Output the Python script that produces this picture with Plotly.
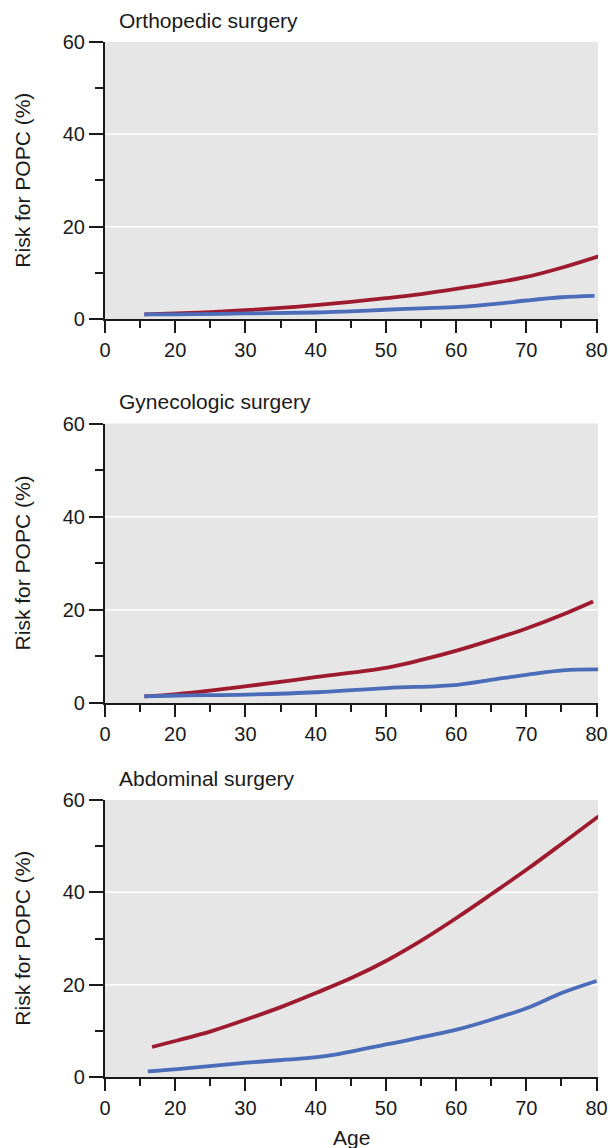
import plotly.graph_objects as go

# Age axis: the first tick (placed at 10) carries the label "0" (axis break)
age_tickvals = [10, 20, 30, 40, 50, 60, 70, 80]
age_ticktext = ["0", "20", "30", "40", "50", "60", "70", "80"]
age_minor = [15, 25, 35, 45, 55, 65, 75]
risk_tickvals = [0, 20, 40, 60]
risk_minor = [10, 30, 50]

panel_titles = ["Orthopedic surgery", "Gynecologic surgery", "Abdominal surgery"]

# Orthopedic surgery
ortho_high_age = [15.6, 20, 25, 30, 35, 40, 45, 50, 55, 60, 65, 70, 75, 80.3]
ortho_high_risk = [1.0, 1.2, 1.5, 1.9, 2.4, 3.0, 3.7, 4.5, 5.4, 6.5, 7.7, 9.1, 11.1, 13.6]
ortho_low_age = [15.6, 20, 30, 40, 44, 50, 55, 60.5, 66, 70, 75, 79.7]
ortho_low_risk = [1.0, 1.0, 1.2, 1.4, 1.6, 2.0, 2.3, 2.6, 3.3, 4.0, 4.7, 5.0]

# Gynecologic surgery
gyn_high_age = [15.6, 20.3, 30.2, 40.2, 50.2, 55.2, 60.2, 65.2, 70.2, 75.2, 79.5]
gyn_high_risk = [1.4, 1.9, 3.6, 5.6, 7.6, 9.3, 11.3, 13.6, 16.1, 19.0, 21.8]
gyn_low_age = [15.6, 20.3, 30.2, 40.2, 50.2, 60.2, 65.2, 70.2, 75.2, 81.0]
gyn_low_risk = [1.4, 1.6, 1.8, 2.3, 3.2, 3.9, 5.0, 6.1, 7.0, 7.2]

# Abdominal surgery
abd_high_age = [16.7, 20.3, 25.3, 30.2, 35.3, 40.2, 45.3, 50.2, 55.2, 60.2, 65.2, 70.2, 75.2, 80.3]
abd_high_risk = [6.5, 7.9, 10.0, 12.5, 15.3, 18.3, 21.6, 25.3, 29.7, 34.6, 39.8, 45.1, 50.7, 56.5]
abd_low_age = [16.1, 20.3, 30.2, 40.2, 43.0, 50.2, 60.2, 65.2, 70.2, 75.2, 80.0]
abd_low_risk = [1.2, 1.7, 3.1, 4.3, 4.9, 7.1, 10.3, 12.5, 15.0, 18.3, 20.8]

panels = [
    (ortho_high_age, ortho_high_risk, ortho_low_age, ortho_low_risk),
    (gyn_high_age, gyn_high_risk, gyn_low_age, gyn_low_risk),
    (abd_high_age, abd_high_risk, abd_low_age, abd_low_risk),
]

RED = "#9e1a2e"
BLUE = "#4a6cb9"
INK = "#1a1a1a"
FONT = "Liberation Sans, Arial, Helvetica, sans-serif"

domains = [[0.7324, 1.0], [0.3614, 0.6313], [0.0, 0.2676]]

fig = go.Figure()
for i, (ha, hr, la, lr) in enumerate(panels):
    n = "" if i == 0 else str(i + 1)
    fig.add_trace(go.Scatter(x=ha, y=hr, mode="lines", xaxis="x" + n, yaxis="y" + n,
                             line=dict(color=RED, width=3.8, shape="spline", smoothing=1.0),
                             showlegend=False, hoverinfo="skip"))
    fig.add_trace(go.Scatter(x=la, y=lr, mode="lines", xaxis="x" + n, yaxis="y" + n,
                             line=dict(color=BLUE, width=3.8, shape="spline", smoothing=1.0),
                             showlegend=False, hoverinfo="skip"))

    xkey = "xaxis" + n
    ykey = "yaxis" + n
    fig.update_layout({
        xkey: dict(
            domain=[0, 1], anchor="y" + n, range=[10, 80.2], automargin=False,
            tickvals=age_tickvals, ticktext=age_ticktext,
            ticks="outside", ticklen=12, tickwidth=1.5, tickcolor=INK,
            minor=dict(tickvals=age_minor, ticks="outside", ticklen=7,
                       tickwidth=1.5, tickcolor=INK, showgrid=False),
            showline=True, linewidth=2.2, linecolor=INK, showgrid=False,
            zeroline=False, tickfont=dict(family=FONT, size=20, color=INK),
            fixedrange=True,
        ),
        ykey: dict(
            domain=domains[i], anchor="x" + n, range=[0, 60], automargin=False,
            tickvals=risk_tickvals, ticks="outside", ticklen=14, tickwidth=1.5,
            tickcolor=INK,
            minor=dict(tickvals=risk_minor, ticks="outside", ticklen=8,
                       tickwidth=1.5, tickcolor=INK, showgrid=False),
            showline=True, linewidth=2.2, linecolor=INK, showgrid=False,
            zeroline=False, tickfont=dict(family=FONT, size=20, color=INK),
            fixedrange=True,
        ),
    })

    # gray panel background and white reference lines at 20 and 40
    fig.add_shape(type="rect", xref="x" + n + " domain", yref="y" + n + " domain",
                  x0=0, x1=1, y0=0, y1=1, fillcolor="#e6e6e6", line_width=0,
                  layer="below")
    for g in (20, 40):
        fig.add_shape(type="line", xref="x" + n + " domain", yref="y" + n,
                      x0=0, x1=1, y0=g, y1=g, line=dict(color="white", width=1.5),
                      layer="below")

    fig.add_annotation(text=panel_titles[i], xref="x" + n + " domain",
                       yref="y" + n + " domain", x=0.024, y=1, xanchor="left",
                       yanchor="middle", yshift=22, showarrow=False,
                       font=dict(family=FONT, size=21, color=INK))
    fig.add_annotation(text="Risk for POPC (%)", xref="paper", yref="y" + n + " domain",
                       x=-0.168, y=0.5, xanchor="center", yanchor="middle",
                       textangle=-90, showarrow=False,
                       font=dict(family=FONT, size=21, color=INK))

fig.add_annotation(text="Age", xref="paper", yref="paper", x=0.499, y=-0.058,
                   xanchor="center", yanchor="middle", showarrow=False,
                   font=dict(family=FONT, size=21, color=INK))

fig.update_layout(
    width=610, height=1148,
    margin=dict(l=105, r=12, t=42, b=71),
    paper_bgcolor="white", plot_bgcolor="rgba(0,0,0,0)",
)

fig.write_html("out.html")
